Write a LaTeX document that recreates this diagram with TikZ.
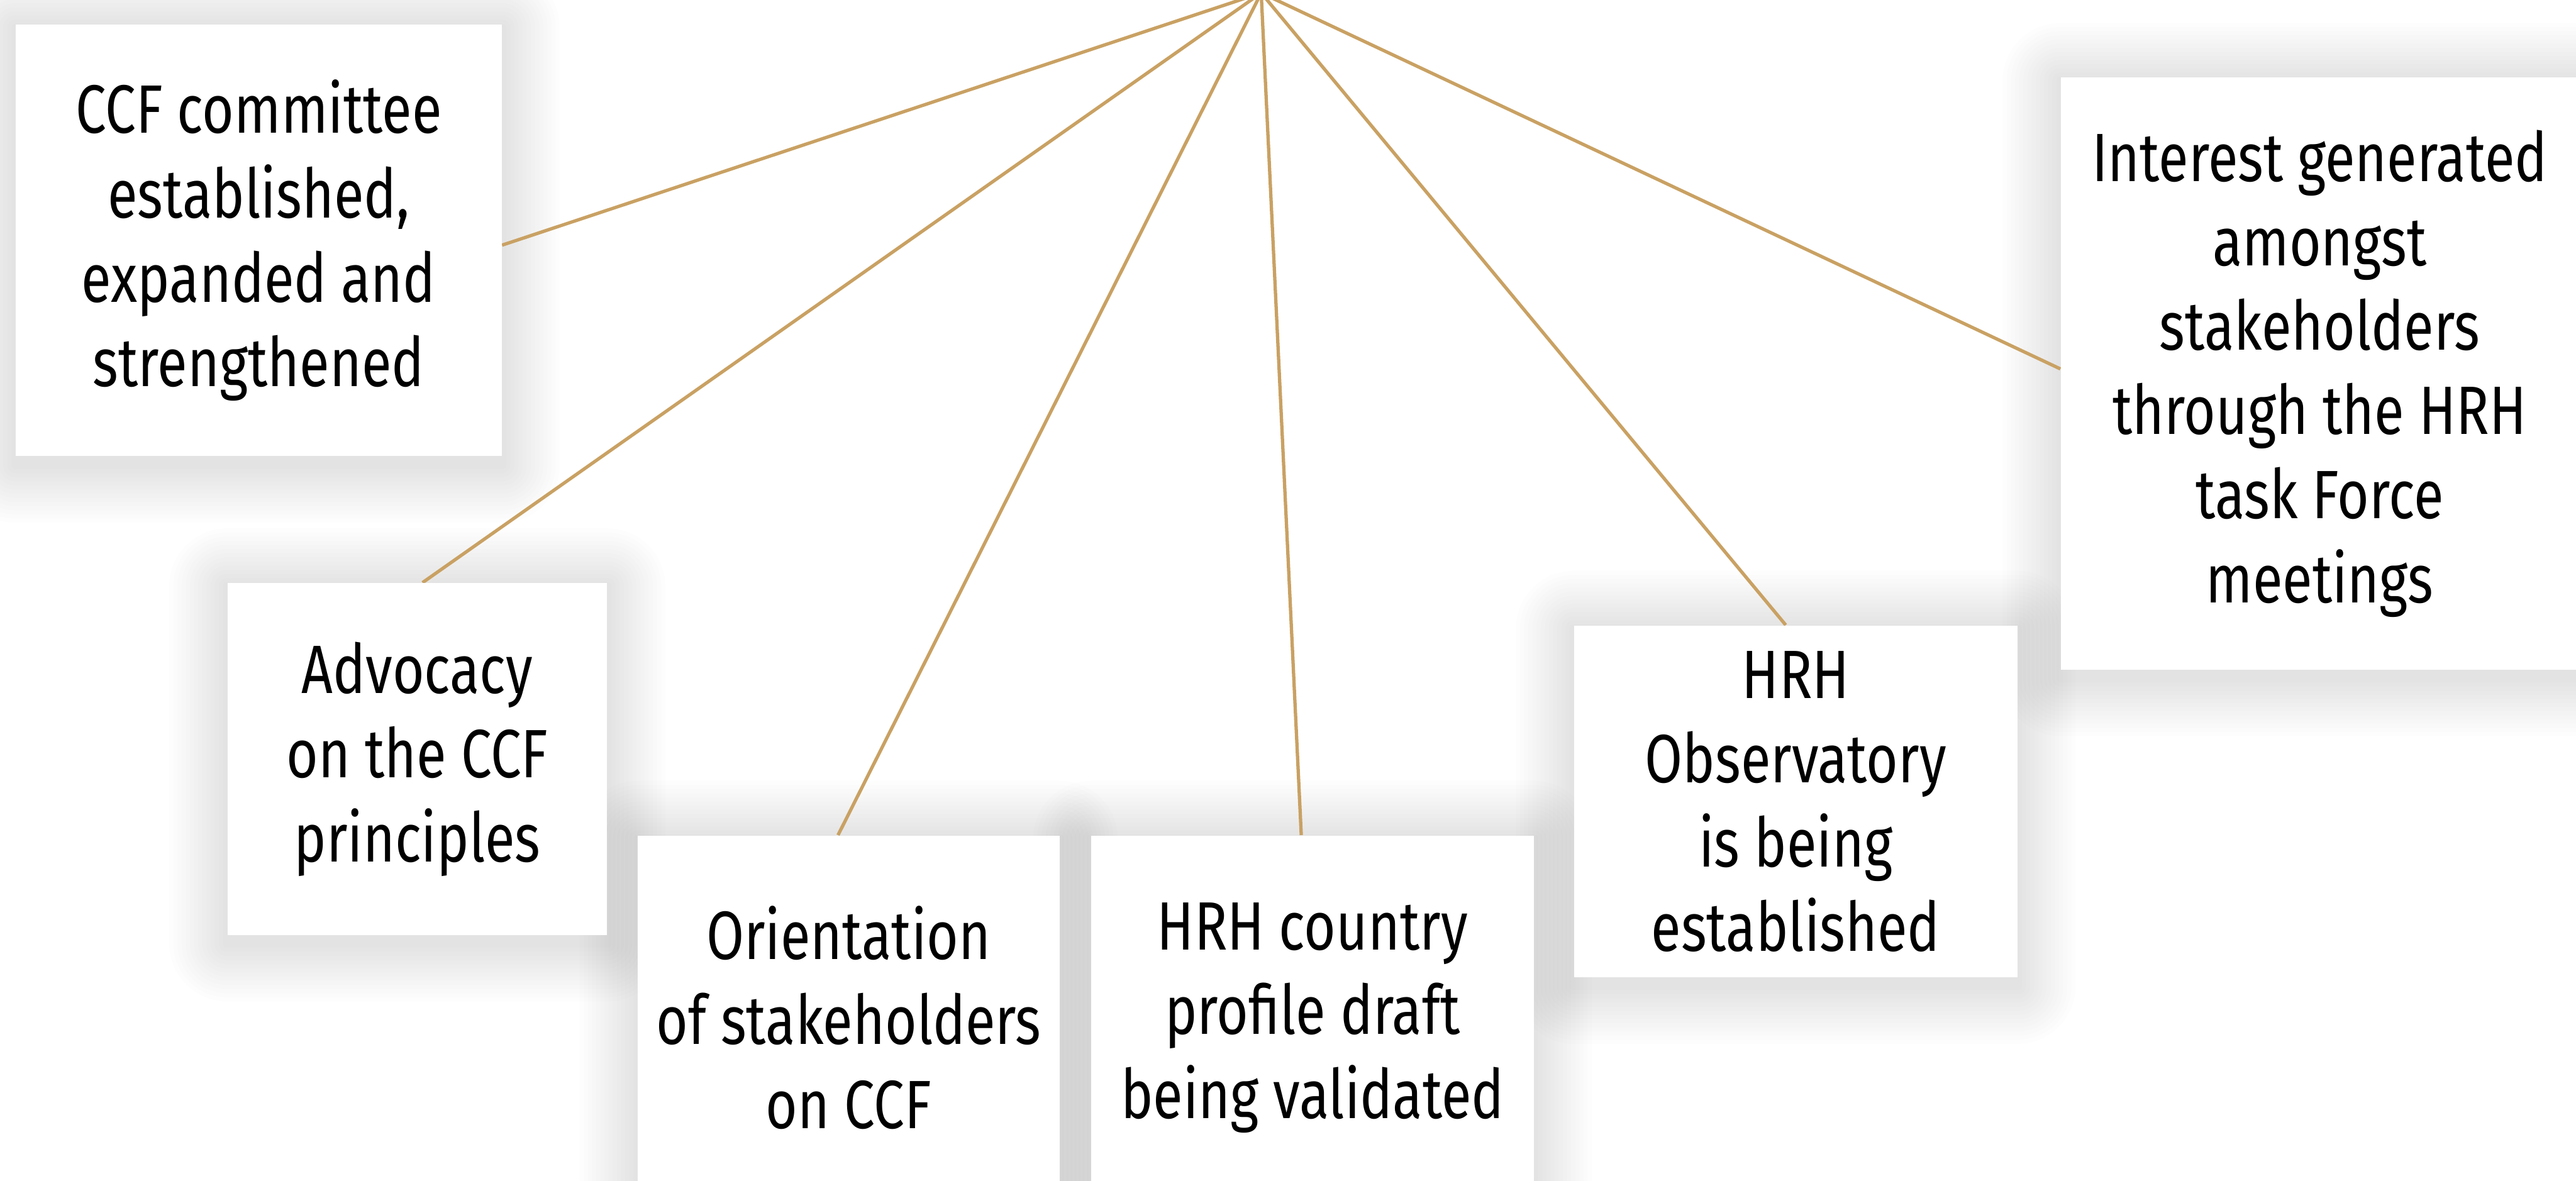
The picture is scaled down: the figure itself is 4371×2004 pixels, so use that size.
\documentclass[tikz,border=0pt]{standalone}
\usepackage{fontspec}
\setmainfont{Fira Sans}[FakeStretch=0.8]
\usetikzlibrary{backgrounds,calc}
\definecolor{spoke}{RGB}{201,161,99}
\tikzset{
  card/.style={fill=white, inner sep=0pt, align=center,
    font=\fontsize{33}{40.7}\selectfont},
  spokeline/.style={draw=spoke, line width=1.6pt}
}
% soft drop shadow built from stacked translucent rounded rectangles
\newcommand\cardshade[1]{%
  \foreach \k in {1,...,14}{%
    \fill[black, opacity=0.0065, rounded corners=\k*0.07cm]
      ($(#1.south west)+(-\k*7,\k*7+14)$) rectangle
      ($(#1.north east)+(\k*7,-\k*7+6)$);
  }%
}
\begin{document}
\begin{tikzpicture}[x=0.01cm, y=-0.01cm]
  \useasboundingbox (0,0) rectangle (4371,2004);
  \clip (0,0) rectangle (4371,2004);

  % hub the spokes radiate from, just above the top edge
  \coordinate (hub) at (2140,-12);

  % result cards
  \node[card, minimum width=8.24cm, minimum height=7.32cm] (b1) at (439,408)
    {CCF committee\\established,\\expanded and\\strengthened};
  \node[card, minimum width=6.44cm, minimum height=5.97cm] (b2) at (708,1288)
    {Advocacy\\on the CCF\\principles};
  \node[card, minimum width=7.15cm, minimum height=6.18cm] (b3) at (1440,1727)
    {Orientation\\of stakeholders\\on CCF};
  \node[card, minimum width=7.50cm, minimum height=6.18cm] (b4) at (2227,1727)
    {HRH country\\profile draft\\being validated};
  \node[card, minimum width=7.52cm, minimum height=5.97cm] (b5) at (3047,1360)
    {HRH\\Observatory\\is being\\established};
  \node[card, minimum width=8.78cm, minimum height=10.04cm] (b6) at (3936,634)
    {Interest generated\\amongst\\stakeholders\\through the HRH\\task Force\\meetings};

  \begin{scope}[on background layer]
    \fill[white] (0,0) rectangle (4371,2004);
    \cardshade{b1}
    \cardshade{b2}
    \cardshade{b3}
    \cardshade{b4}
    \cardshade{b5}
    \cardshade{b6}
    % spokes from the hub to each card
    \draw[spokeline] (hub) -- ($(b1.east)+(0,8)$);
    \draw[spokeline] (hub) -- ($(b2.north)+(9,0)$);
    \draw[spokeline] (hub) -- ($(b3.north)+(-18,0)$);
    \draw[spokeline] (hub) -- ($(b4.north)+(-19,0)$);
    \draw[spokeline] (hub) -- ($(b5.north)+(-17,0)$);
    \draw[spokeline] (hub) -- ($(b6.west)+(0,-8)$);
  \end{scope}
\end{tikzpicture}
\end{document}
